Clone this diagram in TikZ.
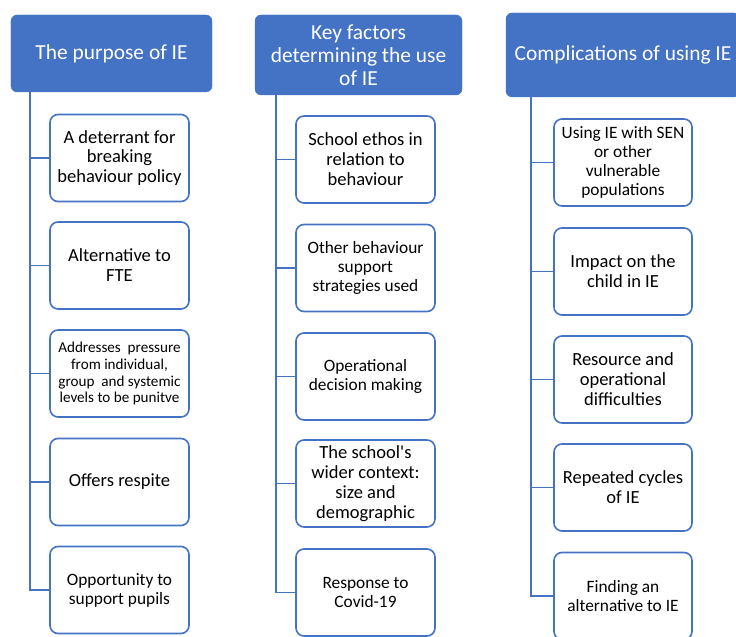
\documentclass[tikz,border=0pt]{standalone}
\usepackage{fontspec}
\setmainfont{Carlito}[Ligatures=TeXOff]
\definecolor{ieblue}{HTML}{4472C4}
\tikzset{
  head/.style={draw=ieblue, fill=ieblue, rounded corners=6bp, text=white,
    align=center, inner sep=2bp, font=\fontsize{21.5}{23}\selectfont},
  item/.style={draw=ieblue, line width=1.6bp, fill=white, rounded corners=8bp,
    align=center, inner sep=2bp, minimum height=87bp,
    font=\fontsize{18.6}{20}\selectfont},
  small/.style={font=\fontsize{15.2}{17}\selectfont},
  mid/.style={font=\fontsize{17.4}{19}\selectfont},
  conn/.style={draw=ieblue, line width=1.6bp},
}
\begin{document}
\begin{tikzpicture}[x=1bp,y=-1bp]
\clip (0,0) rectangle (736,637);
\fill[white] (0,0) rectangle (736,637);

% column headers
\node[head, minimum width=201bp, minimum height=77bp] (h1) at (111.5,53.5) {The purpose of IE};
\node[head, minimum width=207bp, minimum height=80bp] (h2) at (358.5,55) {Key factors\\determining the use\\of IE};
\node[head, minimum width=234bp, minimum height=84bp] (h3) at (623,55) {Complications of using IE};

% first column
\node[item, minimum width=139bp] (a1) at (119.5,158) {A deterrant for\\breaking\\behaviour policy};
\node[item, minimum width=139bp] (a2) at (119.5,265.5) {Alternative to\\FTE};
\node[item, small, minimum width=139bp] (a3) at (119.5,373.5) {Addresses\hspace{0.45em}pressure\\from individual,\\group\hspace{0.45em}and systemic\\levels to be punitve};
\node[item, minimum width=139bp] (a4) at (119.5,482) {Offers respite};
\node[item, mid, minimum width=139bp] (a5) at (119.5,590) {Opportunity to\\support pupils};

% second column
\node[item, minimum width=139bp] (b1) at (365.5,159.5) {School ethos in\\relation to\\behaviour};
\node[item, mid, minimum width=139bp] (b2) at (365.5,268) {Other behaviour\\support\\strategies used};
\node[item, mid, minimum width=139bp] (b3) at (365.5,376.5) {Operational\\decision making};
\node[item, minimum width=139bp] (b4) at (365.5,483.5) {The school's\\wider context:\\size and\\demographic};
\node[item, mid, minimum width=139bp] (b5) at (365.5,592.5) {Response to\\Covid-19};

% third column
\node[item, mid, minimum width=138bp] (c1) at (623,162.5) {Using IE with SEN\\or other\\vulnerable\\populations};
\node[item, minimum width=138bp] (c2) at (623,271.5) {Impact on the\\child in IE};
\node[item, minimum width=138bp] (c3) at (623,379.5) {Resource and\\operational\\difficulties};
\node[item, minimum width=138bp] (c4) at (623,487.5) {Repeated cycles\\of IE};
\node[item, mid, minimum width=138bp] (c5) at (623,596) {Finding an\\alternative to IE};

% connectors: trunk from each header down to its last item, branches to the others
\draw[conn] ([xshift=19bp]h1.south west) |- (a5.west);
\foreach \n in {a1,a2,a3,a4} \draw[conn] (\n.west) -- ++(-20,0);
\draw[conn] ([xshift=21bp]h2.south west) |- (b5.west);
\foreach \n in {b1,b2,b3,b4} \draw[conn] (\n.west) -- ++(-20,0);
\draw[conn] ([xshift=25bp]h3.south west) |- (c5.west);
\foreach \n in {c1,c2,c3,c4} \draw[conn] (\n.west) -- ++(-23,0);
\end{tikzpicture}
\end{document}
